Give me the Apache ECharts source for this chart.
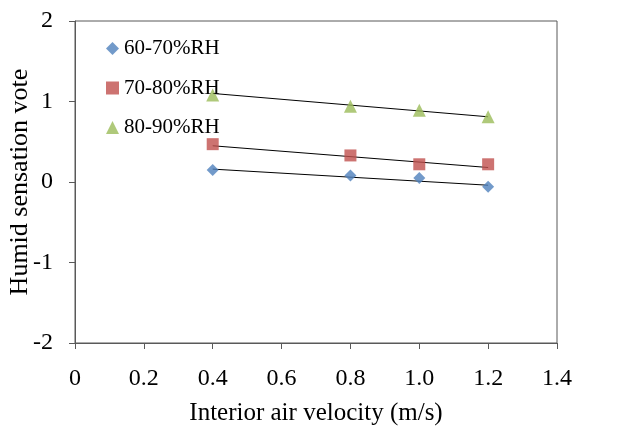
<!DOCTYPE html>
<html><head><meta charset="utf-8">
<script src="https://cdn.jsdelivr.net/npm/echarts@6/dist/echarts.min.js"></script>
<style>html,body{margin:0;padding:0;background:#fff}#c{width:619px;height:428px}</style>
</head><body><div id="c"></div>
<script>
const velocity = [0.4, 0.8, 1.0, 1.2];
const rh60_70 = [0.15, 0.08, 0.05, -0.06];
const rh70_80 = [0.47, 0.33, 0.22, 0.22];
const rh80_90 = [1.08, 0.94, 0.89, 0.81];
const trendX = [0.4, 1.2];
const trend60_70 = [0.16, -0.04];
const trend70_80 = [0.45, 0.18];
const trend80_90 = [1.10, 0.81];
const seriesNames = ['60-70%RH', '70-80%RH', '80-90%RH'];
const xTicks = ['0', '0.2', '0.4', '0.6', '0.8', '1.0', '1.2', '1.4'];

const font = '"Liberation Serif", "Times New Roman", serif';
const pts = (ys) => velocity.map((v, i) => [v, ys[i]]);
const tl = (ys) => trendX.map((v, i) => [v, ys[i]]);
const trendStyle = {type: 'line', symbol: 'none', silent: true, lineStyle: {color: '#000', width: 1}, z: 1};
const axisColor = '#595959';

const chart = echarts.init(document.getElementById('c'), null, {renderer: 'canvas'});
chart.setOption({
  animation: false,
  grid: {left: 75, right: 62, top: 21, bottom: 85, show: true, borderColor: axisColor, borderWidth: 1,
    containLabel: false, outerBoundsMode: 'none'},
  legend: {
    orient: 'vertical', left: 101, top: 33, itemGap: 18.5, itemWidth: 13, itemHeight: 13,
    data: [
      {name: seriesNames[0], icon: 'diamond'},
      {name: seriesNames[1], icon: 'rect'},
      {name: seriesNames[2], icon: 'triangle'}
    ],
    textStyle: {fontFamily: font, fontSize: 21, color: '#000'}
  },
  xAxis: {
    type: 'value', min: 0, max: 1.4, interval: 0.2,
    name: 'Interior air velocity (m/s)', nameLocation: 'middle', nameGap: 58, nameMoveOverlap: false,
    nameTextStyle: {fontFamily: font, fontSize: 25, color: '#000'},
    axisLine: {onZero: false, lineStyle: {color: axisColor}},
    axisTick: {show: true, inside: false, length: 6, lineStyle: {color: axisColor}},
    axisLabel: {fontFamily: font, fontSize: 24, color: '#000', margin: 24,
      formatter: (v) => xTicks[Math.round(v / 0.2)]},
    splitLine: {show: false}
  },
  yAxis: {
    type: 'value', min: -2, max: 2, interval: 1,
    name: 'Humid sensation vote', nameLocation: 'middle', nameGap: 42, nameMoveOverlap: false,
    nameTextStyle: {fontFamily: font, fontSize: 26, color: '#000'},
    axisLine: {show: true, lineStyle: {color: axisColor}},
    axisTick: {show: true, inside: false, length: 6, lineStyle: {color: axisColor}},
    axisLabel: {fontFamily: font, fontSize: 24, color: '#000', margin: 22},
    splitLine: {show: false}
  },
  series: [
    {name: seriesNames[0], type: 'scatter', symbol: 'diamond', symbolSize: 12, data: pts(rh60_70), itemStyle: {color: '#4F81BD'}, z: 3},
    {name: seriesNames[1], type: 'scatter', symbol: 'rect', symbolSize: 12, data: pts(rh70_80), itemStyle: {color: '#C0504D'}, z: 3},
    {name: seriesNames[2], type: 'scatter', symbol: 'triangle', symbolSize: 13, data: pts(rh80_90), itemStyle: {color: '#9BBB59'}, z: 3},
    Object.assign({data: tl(trend60_70)}, trendStyle),
    Object.assign({data: tl(trend70_80)}, trendStyle),
    Object.assign({data: tl(trend80_90)}, trendStyle)
  ]
});
</script>
</body></html>
